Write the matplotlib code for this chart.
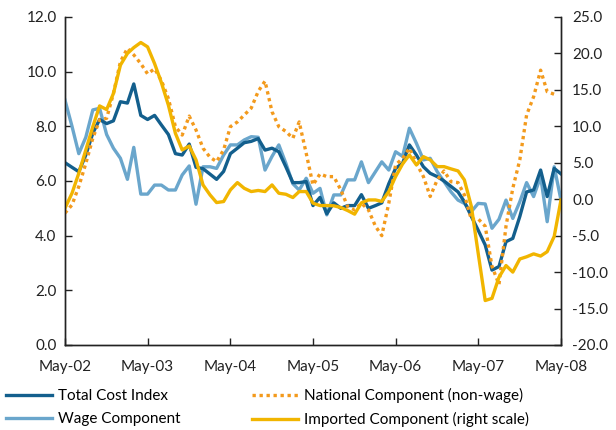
#!/usr/bin/env python3
"""
Cost index and its components, May-02 to May-08 (annual % change).

Total cost index and wage component on the left scale, national
(non-wage) and imported components on the right scale.
"""

import numpy as np
import pandas as pd
import matplotlib
matplotlib.use('Agg')
import matplotlib.pyplot as plt
import matplotlib.dates as mdates
import matplotlib.ticker as mticker

START = '2002-05-01'

total_cost = [
    6.67, 6.5, 6.34, 6.95, 7.75, 8.25, 8.1, 8.2, 8.9, 8.85, 9.55, 8.4,
    8.25, 8.4, 8.05, 7.7, 7.0, 6.95, 7.35, 6.5, 6.45, 6.25, 6.06, 6.35,
    7.0, 7.2, 7.4, 7.45, 7.55, 7.13, 7.2, 7.07, 6.52, 5.94, 5.94, 5.98,
    5.1, 5.4, 4.8, 5.2, 5.0, 5.1, 5.1, 5.5, 5.0, 5.1, 5.2, 5.9,
    6.46, 6.65, 7.32, 6.95, 6.52, 6.28, 6.16, 6.0, 5.8, 5.6, 5.24, 4.7,
    4.2, 3.66, 2.74, 2.87, 3.78, 3.9, 4.7, 5.6, 5.67, 6.4, 5.43, 6.46,
    6.26,
]

wage = [
    8.96, 8.0, 7.0, 7.6, 8.6, 8.66, 7.7, 7.2, 6.83, 6.06, 7.23, 5.52,
    5.52, 5.85, 5.85, 5.67, 5.67, 6.22, 6.55, 5.15, 6.52, 6.52, 6.46, 6.95,
    7.32, 7.32, 7.5, 7.62, 7.6, 6.4, 6.9, 7.32, 6.65, 5.9, 5.67, 6.1,
    5.55, 5.73, 4.76, 5.49, 5.49, 6.04, 6.04, 6.7, 5.94, 6.34, 6.7, 6.4,
    7.07, 6.9, 7.93, 7.38, 6.77, 6.83, 6.34, 5.98, 5.6, 5.3, 5.18, 4.88,
    5.18, 5.16, 4.27, 4.6, 5.3, 4.63, 5.24, 5.94, 5.43, 6.16, 4.51, 6.52,
    5.3,
]

national = [
    -1.9, -0.78, 1.74, 4.9, 8.36, 10.9, 11.1, 14.5, 18.86, 20.7, 19.8, 18.6,
    17.2, 17.9, 16.3, 13.8, 9.95, 8.8, 11.4, 9.5, 7.0, 5.75, 5.16, 6.76,
    9.95, 10.6, 11.55, 12.5, 14.8, 16.2, 12.0, 9.95, 9.3, 8.36, 10.6, 6.3,
    1.96, 3.47, 3.1, 3.1, 1.28, -1.0, -1.46, -0.55, -1.46, -3.7, -5.0, -0.55,
    4.7, 5.6, 7.0, 4.93, 3.1, 0.37, 2.65, 3.88, 2.4, 2.28, 0.6, -2.8,
    -2.7, -3.7, -9.2, -11.7, -3.7, 1.5, 5.4, 11.55, 14.06, 17.7, 14.75, 14.4,
    np.nan,
]

imported = [
    -1.23, 0.82, 3.56, 6.76, 9.95, 12.8, 12.3, 14.5, 18.4, 20.0, 20.8, 21.5,
    20.9, 18.6, 16.0, 12.9, 9.04, 6.76, 7.3, 5.4, 1.96, 0.59, -0.46, -0.32,
    1.28, 2.28, 1.5, 1.05, 1.2, 1.05, 1.96, 0.82, 0.68, 0.23, 1.05, 1.05,
    -0.55, -0.87, -0.87, -0.9, -1.14, -1.55, -2.05, -0.5, -0.1, -0.1, -0.3, 1.05,
    3.1, 4.84, 6.07, 4.7, 5.84, 5.4, 4.47, 4.47, 4.16, 3.88, 2.65, -1.0,
    -7.4, -13.9, -13.6, -10.7, -9.1, -10.0, -8.2, -7.9, -7.5, -7.8, -7.2, -5.1,
    -0.1,
]

DARK_BLUE = '#135f8d'
LIGHT_BLUE = '#6aa6cc'
YELLOW = '#f1b500'
ORANGE = '#f39a1c'

plt.rcParams['font.family'] = ['Lato', 'DejaVu Sans']
plt.rcParams['font.size'] = 11

dates = pd.date_range(START, periods=len(total_cost), freq='MS')

fig = plt.figure(figsize=(6.16, 4.30), dpi=100)
ax = fig.add_axes([0.1055, 0.1977, 0.8052, 0.7628])
ax2 = ax.twinx()

lw = 2.4
h_total, = ax.plot(dates, total_cost, color=DARK_BLUE, lw=lw, zorder=4,
                   label='Total Cost Index')
h_wage, = ax.plot(dates, wage, color=LIGHT_BLUE, lw=lw, zorder=3,
                  label='Wage Component')
h_nat, = ax2.plot(dates, national, color=ORANGE, lw=lw, ls=(0, (1, 1.1)),
                  dash_capstyle='butt', label='National Component (non-wage)')
h_imp, = ax2.plot(dates, imported, color=YELLOW, lw=lw,
                  label='Imported Component (right scale)')

ax.set_ylim(0, 12)
ax2.set_ylim(-20, 25)
ax.set_yticks(np.arange(0, 12.1, 2))
ax2.set_yticks(np.arange(-20, 25.1, 5))
ax.yaxis.set_major_formatter(mticker.FormatStrFormatter('%.1f'))
ax2.yaxis.set_major_formatter(mticker.FormatStrFormatter('%.1f'))

ax.set_xlim(pd.Timestamp('2002-05-01'), pd.Timestamp('2008-05-01'))
ax.xaxis.set_major_locator(mdates.MonthLocator(bymonth=5))
ax.xaxis.set_major_formatter(mdates.DateFormatter('%b-%y'))

for a in (ax, ax2):
    a.spines['top'].set_visible(False)
    for s in ('left', 'right', 'bottom'):
        a.spines[s].set_linewidth(1.0)
        a.spines[s].set_color('#222222')
    a.tick_params(direction='in', length=5, width=1.0, colors='#222222',
                  labelcolor='#222222', labelsize=11)
ax.tick_params(axis='x', pad=10.5)
ax.tick_params(axis='y', pad=6)
ax2.tick_params(axis='y', pad=8)

fig.legend(handles=[h_total, h_wage, h_nat, h_imp], ncol=2,
           loc='upper left', bbox_to_anchor=(0.0, 0.112),
           frameon=False, handlelength=3.0, handletextpad=0.4,
           columnspacing=4.7, labelspacing=0.6, borderaxespad=0.0,
           fontsize=11)

fig.savefig('out.png', dpi=100)
